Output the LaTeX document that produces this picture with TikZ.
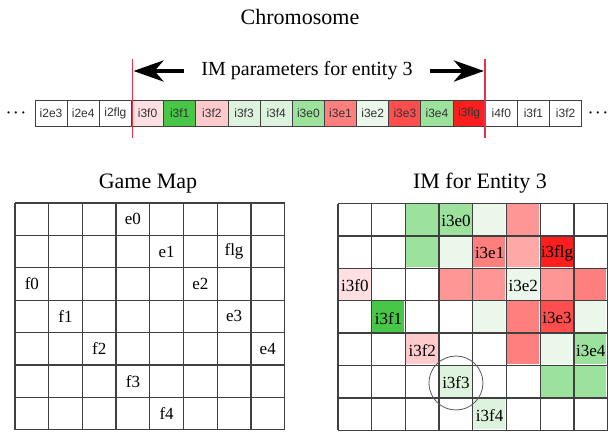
\documentclass[tikz,border=0pt]{standalone}
\usepackage{fontspec}
\setmainfont{Liberation Serif}
\setsansfont{Liberation Sans}
\usepackage{xcolor}
\usetikzlibrary{positioning,arrows.meta}

\definecolor{pinkA}{HTML}{FFE0E2}
\definecolor{pinkB}{HTML}{FFCACC}
\definecolor{redA}{HTML}{FF9696}
\definecolor{redE}{HTML}{FFA8A8}
\definecolor{redB}{HTML}{FF7E7E}
\definecolor{redC}{HTML}{FF4E4E}
\definecolor{redD}{HTML}{FF1E1E}
\definecolor{greenA}{HTML}{EAF7EA}
\definecolor{greenB}{HTML}{DDF3DD}
\definecolor{greenC}{HTML}{9CE29C}
\definecolor{greenD}{HTML}{48C648}
\definecolor{marker}{HTML}{E8304A}

\begin{document}
\begin{tikzpicture}[x=1pt, y=-1pt,
	title/.style={font=\fontsize{22}{22}\selectfont, anchor=base},
	gene/.style={draw=black!75, line width=0.9pt, minimum width=32.16pt, minimum height=26pt, inner sep=0pt,
		font=\sffamily\fontsize{12}{12}\selectfont, text=black!80},
	dots/.style={font=\fontsize{15}{15}\selectfont\boldmath, inner sep=0pt},
	cellname/.style={font=\fontsize{17}{17}\selectfont, inner sep=0pt},
	gridline/.style={draw=black!75, line width=1.3pt},
	redline/.style={draw=marker, line width=1.2pt},
	bigarrow/.style={-{Stealth[length=30pt, width=21pt, inset=9pt]}, line width=4.5pt}]
	\useasboundingbox (0,0) rectangle (608,434);
	
	% chromosome
	\node[title] (chrom) at (300,24) {Chromosome};
	\foreach \t/\col [count=\i from 0] in {i2e3/white, i2e4/white, i2flg/white, i3f0/pinkA, i3f1/greenD, i3f2/pinkB,
		i3f3/greenB, i3f4/greenB, i3e0/greenC, i3e1/redB, i3e2/greenA, i3e3/redC, i3e4/greenC, i3flg/redD,
		i4f0/white, i3f1/white, i3f2/white}
	\node[gene, fill=\col] (g\i) at (35+\i*32.16+16.08, 113) {\t};
	\node[dots] (dl) at (16,113) {$\cdots$};
	\node[dots] (dr) at (598,113) {$\cdots$};
	
	\coordinate (lt) at (132.5,59);
	\coordinate (lb) at (132.5,138);
	\coordinate (rt) at (485,59);
	\coordinate (rb) at (485,138);
	\draw[redline] (lt) -- (lb);
	\draw[redline] (rt) -- (rb);
	\coordinate (la) at (133.5,71);
	\coordinate (ra) at (484,71);
	\node[font=\fontsize{20}{20}\selectfont] (im) at (307,71) {IM parameters for entity 3};
	\draw[bigarrow, shorten <=14pt] (im) -- (la);
	\draw[bigarrow, shorten <=14pt] (im) -- (ra);
	
	% game map
	\node[title] (map) at (148,188) {Game Map};
	\begin{scope}[shift={(15,203)}]
		\foreach \i in {0,...,8} \draw[gridline] (\i*33.7,0) -- (\i*33.7,226.8);
		\foreach \j in {0,...,7} \draw[gridline] (0,\j*32.4) -- (269.6,\j*32.4);
		\foreach \c/\r/\t in {3/0/e0, 4/1/e1, 6/1/flg, 0/2/f0, 5/2/e2, 1/3/f1, 6/3/e3, 2/4/f2, 7/4/e4, 3/5/f3, 4/6/f4}
		\node[cellname] (m-\t) at (\c*33.7+16.85, \r*32.4+16.2) {\t};
	\end{scope}
	
	% influence map of entity 3
	\node[title] (imap) at (480,188) {IM for Entity 3};
	\begin{scope}[shift={(338,203.5)}]
		\foreach \c/\r/\col in {2/0/greenC, 3/0/greenC, 4/0/greenA, 5/0/redA,
			2/1/greenC, 3/1/greenA, 4/1/redB, 5/1/redE, 6/1/redD,
			0/2/pinkA, 3/2/redA, 4/2/redA, 5/2/greenA, 6/2/redA, 7/2/redB,
			1/3/greenD, 4/3/greenA, 5/3/redB, 6/3/redC, 7/3/greenA,
			2/4/pinkB, 5/4/redB, 6/4/greenA, 7/4/greenC,
			3/5/greenB, 6/5/greenC, 7/5/greenC, 4/6/greenB}
		\fill[\col] (\c*33.7,\r*32.4) rectangle +(32.5,31.2);
		\foreach \i in {0,...,8} \draw[gridline] (\i*33.7,0) -- (\i*33.7,226.8);
		\foreach \j in {0,...,7} \draw[gridline] (0,\j*32.4) -- (269.6,\j*32.4);
		\foreach \c/\r/\t in {3/0/i3e0, 4/1/i3e1, 6/1/i3flg, 0/2/i3f0, 5/2/i3e2, 1/3/i3f1, 6/3/i3e3, 2/4/i3f2, 7/4/i3e4, 3/5/i3f3, 4/6/i3f4}
		\node[cellname] (n-\t) at (\c*33.7+16.85, \r*32.4+17.5) {\t};
	\end{scope}
	\node[draw=black!65, line width=0.8pt, circle, minimum size=54pt] (ring) at (n-i3f3) {};
\end{tikzpicture}
\end{document}
